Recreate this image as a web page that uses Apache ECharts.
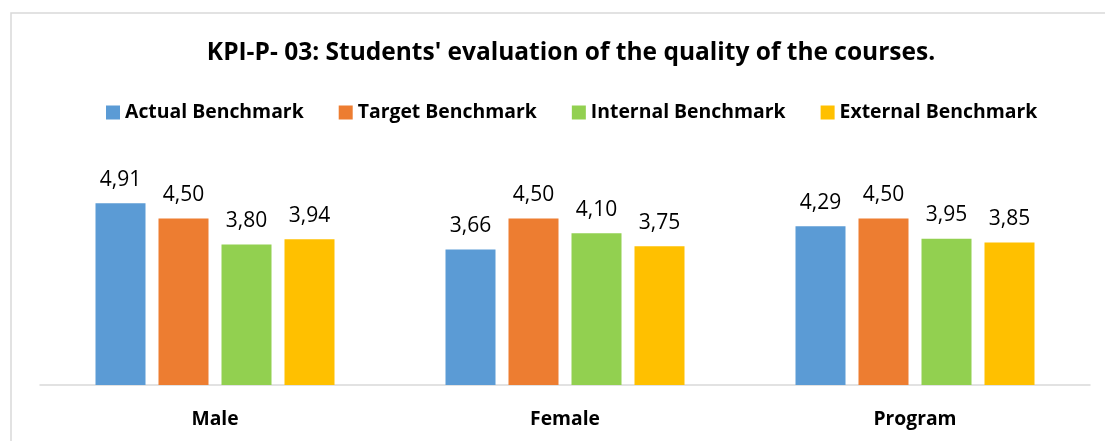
<!DOCTYPE html>
<html>
<head>
<meta charset="utf-8">
<script src="https://cdn.jsdelivr.net/npm/echarts@6/dist/echarts.min.js"></script>
<style>
  html, body { margin: 0; padding: 0; background: #fff; }
  #chart { width: 1105px; height: 441px; }
</style>
</head>
<body>
<div id="chart"></div>
<script>
// ===== data =====
const categories = ['Male', 'Female', 'Program'];
const seriesNames = ['Actual Benchmark', 'Target Benchmark', 'Internal Benchmark', 'External Benchmark'];
const actualValues = [4.91, 3.66, 4.29];
const targetValues = [4.50, 4.50, 4.50];
const internalValues = [3.80, 4.10, 3.95];
const externalValues = [3.94, 3.75, 3.85];
const colors = ['#5B9BD5', '#ED7D31', '#92D050', '#FFC000'];

const font = '"Open Sans", "Liberation Sans", sans-serif';
const chart = echarts.init(document.getElementById('chart'));

function makeSeries(name, data, color) {
    return {
        name: name,
        type: 'bar',
        data: data,
        barWidth: 50,
        barGap: '26%',
        itemStyle: { color: color },
        label: {
            show: true,
            position: 'top',
            distance: 13,
            color: '#000',
            fontFamily: font,
            fontSize: 21,
            formatter: p => p.value.toFixed(2).replace('.', ',')
        }
    };
}

chart.setOption({
    animation: false,
    title: {
        text: "KPI-P- 03: Students' evaluation of the quality of the courses.",
        left: 566,
        textAlign: 'center',
        top: 36,
        textStyle: { fontFamily: font, fontWeight: 'bold', fontSize: 24.5, color: '#000' }
    },
    legend: {
        data: seriesNames,
        top: 98,
        left: 101,
        itemWidth: 14,
        itemHeight: 14,
        itemGap: 35,
        icon: 'rect',
        textStyle: { fontFamily: font, fontWeight: 'bold', fontSize: 19.4, color: '#000' }
    },
    graphic: [{
        type: 'rect',
        shape: { x: 11, y: 13, width: 1120, height: 460 },
        style: { fill: 'none', stroke: '#d9d9d9', lineWidth: 1.5 },
        silent: true
    }],
    grid: { left: 40, right: 15, top: 163, bottom: 56 },
    xAxis: {
        type: 'category',
        data: categories,
        axisLine: { lineStyle: { color: '#d9d9d9', width: 1.5 } },
        axisTick: { show: false },
        axisLabel: {
            margin: 25,
            fontFamily: font, fontWeight: 'bold', fontSize: 19.3, color: '#000'
        }
    },
    yAxis: {
        type: 'value',
        min: 0,
        max: 6,
        show: false,
        splitLine: { show: false }
    },
    series: [
        makeSeries(seriesNames[0], actualValues, colors[0]),
        makeSeries(seriesNames[1], targetValues, colors[1]),
        makeSeries(seriesNames[2], internalValues, colors[2]),
        makeSeries(seriesNames[3], externalValues, colors[3])
    ]
});
</script>
</body>
</html>
